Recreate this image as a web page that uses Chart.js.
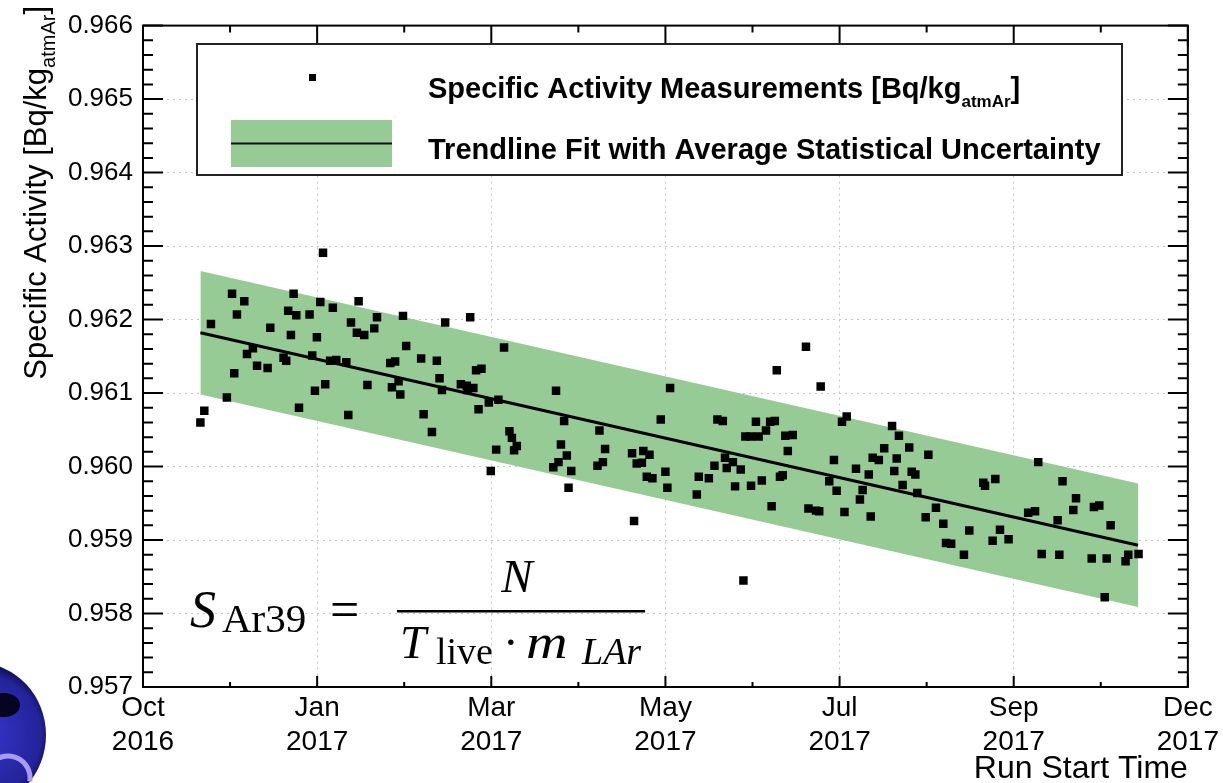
<!DOCTYPE html>
<html>
<head>
<meta charset="utf-8">
<title>Specific Activity vs Run Start Time</title>
<script src="https://cdn.jsdelivr.net/npm/chart.js@4.4.1/dist/chart.umd.min.js"></script>
<style>
    html, body { margin: 0; padding: 0; background: #fff; }
    canvas { display: block; }
</style>
</head>
<body>
<canvas id="grafico" width="1223" height="783"></canvas>
<script>
// run start time in days since 1 Oct 2016
const runDays = [
    23.4, 25.0, 27.7, 34.2, 36.3, 37.2, 38.3, 41.3, 42.4, 44.8,
    46.5, 50.8, 51.9, 57.3, 58.4, 59.2, 60.3, 61.4, 62.5, 63.6,
    67.9, 69.0, 70.1, 70.9, 72.3, 73.4, 74.3, 76.3, 77.4, 78.8,
    82.9, 83.7, 84.8, 87.2, 87.9, 90.2, 91.5, 94.3, 95.4, 100.8,
    101.5, 102.8, 104.2, 104.9, 106.0, 107.3, 113.4, 114.4, 117.8, 119.8,
    120.9, 121.9, 123.2, 129.6, 132.0, 132.3, 133.4, 134.7, 135.8, 136.8,
    138.0, 141.0, 141.8, 144.0, 144.9, 147.2, 149.4, 150.4, 151.3, 152.4,
    167.3, 168.4, 169.4, 170.4, 171.7, 172.8, 173.5, 174.6, 185.3, 186.1,
    187.5, 188.4, 199.4, 200.2, 201.3, 203.4, 204.0, 205.4, 206.5, 207.7,
    211.1, 213.0, 213.8, 214.9, 225.8, 226.6, 230.7, 233.0, 234.2, 236.4,
    237.3, 238.0, 240.5, 241.4, 243.7, 244.8, 245.6, 247.8, 247.9, 249.9,
    251.0, 252.3, 254.0, 255.7, 256.3, 257.6, 258.4, 259.7, 260.8, 261.9,
    262.9, 264.9, 270.3, 271.3, 274.4, 275.7, 276.3, 279.8, 281.7, 282.8,
    285.0, 286.0, 286.9, 290.7, 292.3, 293.4, 295.9, 296.7, 297.5, 300.0,
    302.2, 305.4, 306.3, 307.3, 308.2, 309.7, 312.4, 313.4, 314.9, 315.7,
    319.1, 320.2, 323.3, 326.3, 327.4, 329.5, 334.7, 336.9, 342.6, 343.3,
    346.4, 347.5, 349.4, 352.9, 360.9, 363.7, 365.0, 366.4, 372.9, 373.6,
    374.9, 379.3, 380.4, 386.8, 387.7, 389.9, 392.1, 392.9, 394.5, 400.6,
    401.7, 405.9
];

// specific activity per run [Bq/kg atmAr]
const specificActivity = [
    0.96060, 0.96076, 0.96194, 0.96094, 0.96235, 0.96127, 0.96207, 0.96225, 0.96153, 0.96161,
    0.96137, 0.96134, 0.96189, 0.96148, 0.96144, 0.96212, 0.96179, 0.96235, 0.96206, 0.96080,
    0.96207, 0.96151, 0.96103, 0.96176, 0.96224, 0.96291, 0.96112, 0.96144, 0.96216, 0.96145,
    0.96142, 0.96070, 0.96196, 0.96182, 0.96225, 0.96179, 0.96111, 0.96188, 0.96203, 0.96141,
    0.96108, 0.96143, 0.96116, 0.96098, 0.96205, 0.96164, 0.96147, 0.96071, 0.96047, 0.96144,
    0.96120, 0.96104, 0.96196, 0.96112, 0.96110, 0.96104, 0.96203, 0.96107, 0.96131, 0.96078,
    0.96133, 0.96087, 0.95994, 0.96023, 0.96091, 0.96162, 0.96048, 0.96039, 0.96022, 0.96028,
    0.95999, 0.96103, 0.96006, 0.96030, 0.96062, 0.96015, 0.95971, 0.95994, 0.96001, 0.96049,
    0.96006, 0.96024, 0.96018, 0.95926, 0.96004, 0.96005, 0.96021, 0.95986, 0.96016, 0.95984,
    0.96064, 0.95993, 0.95971, 0.96107, 0.95962, 0.95986, 0.95984, 0.96001, 0.96064, 0.96062,
    0.96012, 0.95998, 0.96006, 0.95973, 0.95996, 0.95845, 0.96041, 0.96041, 0.95974, 0.96061,
    0.96041, 0.95981, 0.96049, 0.96061, 0.95946, 0.96062, 0.96131, 0.95986, 0.95988, 0.96042,
    0.96021, 0.96043, 0.96163, 0.95943, 0.95940, 0.95939, 0.96109, 0.95980, 0.96009, 0.95967,
    0.96061, 0.95938, 0.96068, 0.95997, 0.95955, 0.95968, 0.95989, 0.95932, 0.96012, 0.96009,
    0.96025, 0.96055, 0.95994, 0.96011, 0.96042, 0.95975, 0.96026, 0.95993, 0.95989, 0.95964,
    0.95931, 0.96016, 0.95944, 0.95922, 0.95896, 0.95895, 0.95880, 0.95913, 0.95978, 0.95974,
    0.95899, 0.95983, 0.95914, 0.95901, 0.95937, 0.95939, 0.96006, 0.95881, 0.95927, 0.95880,
    0.95980, 0.95941, 0.95957, 0.95875, 0.95945, 0.95947, 0.95822, 0.95875, 0.95920, 0.95871,
    0.95880, 0.95881
];

// linear trend fit end points and average statistical uncertainty
const fitDays = [23.4, 405.7];
const fitValues = [0.96182, 0.95893];
const bandHalfWidth = 0.00084;

const xTickDays = [0, 71, 142, 213, 284, 355, 426];
const xTickLabels = [
    ["Oct", "2016"], ["Jan", "2017"], ["Mar", "2017"], ["May", "2017"],
    ["Jul", "2017"], ["Sep", "2017"], ["Dec", "2017"]
];
const yTickValues = [0.957, 0.958, 0.959, 0.960, 0.961, 0.962, 0.963, 0.964, 0.965, 0.966];

const VERDE = "rgb(150, 203, 150)";
const SANS = "'Liberation Sans', Arial, Helvetica, sans-serif";
const SERIF = "'Liberation Serif', 'Times New Roman', serif";

// frame with inward ticks on all four sides
const molduraRoot = {
    id: "molduraRoot",
    afterDatasetsDraw(chart) {
        const { ctx, chartArea: a, scales: { x, y } } = chart;
        ctx.save();
        ctx.strokeStyle = "#000";
        ctx.lineWidth = 2;
        ctx.beginPath();

        const hTick = (p, lenL, lenR) => {
            ctx.moveTo(a.left, p); ctx.lineTo(a.left + lenL, p);
            ctx.moveTo(a.right, p); ctx.lineTo(a.right - lenR, p);
        };
        const vTick = (p, lenB, lenT) => {
            ctx.moveTo(p, a.bottom); ctx.lineTo(p, a.bottom - lenB);
            ctx.moveTo(p, a.top); ctx.lineTo(p, a.top + lenT);
        };

        yTickValues.forEach((v, i) => {
            hTick(y.getPixelForValue(v), 20, 20);
            if (i < yTickValues.length - 1) {
                const passo = (yTickValues[i + 1] - v) / 5;
                for (let k = 1; k < 5; k++) hTick(y.getPixelForValue(v + k * passo), 10, 10);
            }
        });

        xTickDays.forEach((v, i) => {
            vTick(x.getPixelForValue(v), 11, 21);
            if (i < xTickDays.length - 1) {
                vTick(x.getPixelForValue((v + xTickDays[i + 1]) / 2), 5, 7);
            }
        });

        ctx.stroke();
        ctx.strokeRect(a.left, a.top, a.right - a.left, a.bottom - a.top);
        ctx.restore();
    }
};

// text with a lowered subscript: partes = [[text, font, dy], ...]
function textoComIndice(ctx, partes, x0, y0) {
    let x = x0;
    partes.forEach(([t, f, dy]) => {
        ctx.font = f;
        ctx.fillText(t, x, y0 + dy);
        x += ctx.measureText(t).width;
    });
    return x;
}

function larguraTexto(ctx, partes) {
    let w = 0;
    partes.forEach(([t, f]) => { ctx.font = f; w += ctx.measureText(t).width; });
    return w;
}

const anotacoes = {
    id: "anotacoes",
    afterDraw(chart) {
        const { ctx, chartArea: a } = chart;
        ctx.save();
        ctx.fillStyle = "#000";
        ctx.textBaseline = "alphabetic";
        ctx.textAlign = "left";

        // y axis title, rotated, right aligned to the top of the axis
        const titulo = [
            ["Specific Activity [Bq/kg", "31px " + SANS, 0],
            ["atmAr", "20px " + SANS, 9],
            ["]", "31px " + SANS, 0]
        ];
        const wt = larguraTexto(ctx, titulo);
        ctx.save();
        ctx.translate(46, 6 + wt);
        ctx.rotate(-Math.PI / 2);
        textoComIndice(ctx, titulo, 0, 0);
        ctx.restore();

        // x axis title
        ctx.font = "32px " + SANS;
        ctx.textAlign = "right";
        ctx.fillText("Run Start Time", a.right, 778);
        ctx.textAlign = "left";

        // legend
        ctx.fillStyle = "#fff";
        ctx.fillRect(197, 44, 925, 131);
        ctx.strokeStyle = "#222";
        ctx.lineWidth = 2;
        ctx.strokeRect(197, 44, 925, 131);

        ctx.fillStyle = "#000";
        ctx.fillRect(309, 74, 7, 7);
        ctx.fillStyle = VERDE;
        ctx.fillRect(231, 120, 161, 47);
        ctx.strokeStyle = "#111";
        ctx.lineWidth = 2;
        ctx.beginPath();
        ctx.moveTo(231, 143.5);
        ctx.lineTo(392, 143.5);
        ctx.stroke();

        ctx.fillStyle = "#000";
        textoComIndice(ctx, [
            ["Specific Activity Measurements [Bq/kg", "bold 29px " + SANS, 0],
            ["atmAr", "bold 17px " + SANS, 9],
            ["]", "bold 29px " + SANS, 0]
        ], 428, 98);
        ctx.font = "bold 29px " + SANS;
        ctx.fillText("Trendline Fit with Average Statistical Uncertainty", 428, 159);

        // activity definition
        ctx.font = "italic 52px " + SERIF;
        ctx.fillText("S", 190, 627);
        ctx.font = "41px " + SERIF;
        ctx.fillText("Ar39", 222, 632);
        ctx.font = "52px " + SERIF;
        ctx.fillText("=", 330, 627);
        ctx.fillRect(397, 610, 248, 2.5);
        ctx.font = "italic 47px " + SERIF;
        ctx.textAlign = "center";
        ctx.fillText("N", 517, 592);
        ctx.textAlign = "left";
        ctx.fillText("T", 400, 658);
        ctx.font = "38px " + SERIF;
        ctx.fillText("live", 436, 664);
        ctx.font = "47px " + SERIF;
        ctx.fillText("\u00b7", 503, 658);
        ctx.save();
        ctx.translate(526, 658);
        ctx.scale(1.2, 1);
        ctx.font = "italic 48px " + SERIF;
        ctx.fillText("m", 0, 0);
        ctx.restore();
        ctx.font = "italic 38px " + SERIF;
        ctx.fillText("LAr", 582, 664);

        // logo in the lower left corner
        ctx.save();
        ctx.beginPath();
        ctx.rect(0, 650, 60, 133);
        ctx.clip();
        const g = ctx.createRadialGradient(-20, 735, 10, -20, 735, 70);
        g.addColorStop(0, "#3434c8");
        g.addColorStop(0.85, "#23239a");
        g.addColorStop(1, "#10105a");
        ctx.fillStyle = g;
        ctx.beginPath();
        ctx.ellipse(-22, 735, 68, 72, 0, 0, Math.PI * 2);
        ctx.fill();
        ctx.fillStyle = "#050520";
        ctx.beginPath();
        ctx.ellipse(4, 705, 16, 12, 0, 0, Math.PI * 2);
        ctx.fill();
        ctx.strokeStyle = "#a79cf0";
        ctx.lineWidth = 5;
        ctx.beginPath();
        ctx.arc(8, 778, 22, Math.PI * 1.05, Math.PI * 2.05);
        ctx.stroke();
        ctx.restore();

        ctx.restore();
    }
};

const pontos = runDays.map((d, i) => ({ x: d, y: specificActivity[i] }));
const linhaFit = fitDays.map((d, i) => ({ x: d, y: fitValues[i] }));
const bandaSup = fitDays.map((d, i) => ({ x: d, y: fitValues[i] + bandHalfWidth }));
const bandaInf = fitDays.map((d, i) => ({ x: d, y: fitValues[i] - bandHalfWidth }));

const ctx = document.getElementById("grafico");

new Chart(ctx, {
    type: "scatter",
    data: {
        datasets: [
            {
                type: "line",
                data: bandaSup,
                borderWidth: 0,
                pointRadius: 0,
                fill: false,
                order: 4
            },
            {
                type: "line",
                data: bandaInf,
                borderWidth: 0,
                pointRadius: 0,
                fill: "-1",
                backgroundColor: VERDE,
                order: 3
            },
            {
                type: "line",
                data: linhaFit,
                borderColor: "#000",
                borderWidth: 3,
                pointRadius: 0,
                fill: false,
                order: 2
            },
            {
                type: "scatter",
                data: pontos,
                pointStyle: "rect",
                pointRadius: 6,
                backgroundColor: "#000",
                borderWidth: 0,
                order: 1
            }
        ]
    },
    options: {
        responsive: false,
        animation: false,
        events: [],
        layout: { padding: { top: 18, right: 35, left: 0, bottom: 0 } },
        plugins: {
            legend: { display: false },
            tooltip: { enabled: false }
        },
        scales: {
            x: {
                type: "linear",
                min: xTickDays[0],
                max: xTickDays[xTickDays.length - 1],
                afterBuildTicks: s => { s.ticks = xTickDays.map(v => ({ value: v })); },
                afterFit: s => { s.height = 96; },
                ticks: {
                    callback: (v, i) => xTickLabels[i],
                    color: "#000",
                    font: { family: SANS, size: 28, lineHeight: "34px" },
                    padding: 4,
                    maxRotation: 0,
                    autoSkip: false
                },
                grid: { color: "#c4c4c4", lineWidth: 1, drawTicks: false },
                border: { display: false, dash: [2, 4] }
            },
            y: {
                type: "linear",
                min: yTickValues[0],
                max: yTickValues[yTickValues.length - 1],
                afterBuildTicks: s => { s.ticks = yTickValues.map(v => ({ value: v })); },
                afterFit: s => { s.width = 143; },
                ticks: {
                    callback: v => v.toFixed(3),
                    color: "#000",
                    font: { family: SANS, size: 26 },
                    padding: 10
                },
                grid: { color: "#c4c4c4", lineWidth: 1, drawTicks: false },
                border: { display: false, dash: [2, 4] }
            }
        }
    },
    plugins: [molduraRoot, anotacoes]
});
</script>
</body>
</html>
